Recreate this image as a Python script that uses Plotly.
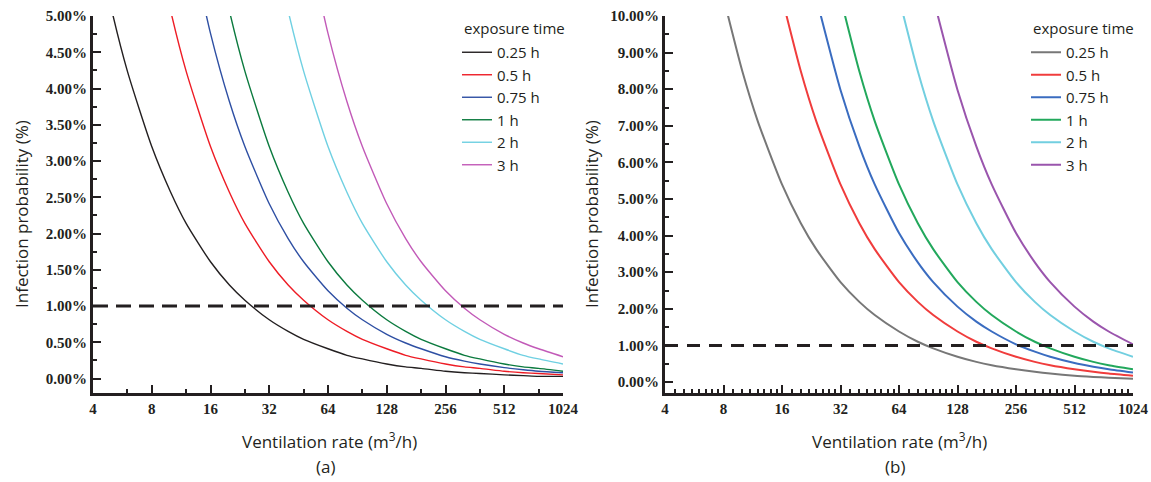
import plotly.graph_objects as go

# ---------------- data ----------------
vent_rate = [4, 5, 6, 8, 10, 12, 16, 20, 24, 32, 40, 48, 64, 80, 96, 128,
             160, 192, 256, 320, 384, 512, 640, 768, 1024]
exposure_labels = ["0.25 h", "0.5 h", "0.75 h", "1 h", "2 h", "3 h"]
N = None

# panel (a) infection probability (%)
a_025 = [6.29, 5.07, 4.24, 3.20, 2.57, 2.14, 1.61, 1.29, 1.08, 0.81, 0.65, 0.54, 0.41,
         0.32, 0.27, 0.20, 0.16, 0.14, 0.10, 0.08, 0.07, 0.05, 0.04, 0.03, 0.03]
a_05 = [N, N, N, 6.29, 5.07, 4.24, 3.20, 2.57, 2.14, 1.61, 1.29, 1.08, 0.81, 0.65,
        0.54, 0.41, 0.32, 0.27, 0.20, 0.16, 0.14, 0.10, 0.08, 0.07, 0.05]
a_075 = [N, N, N, N, N, 6.29, 4.76, 3.82, 3.20, 2.41, 1.93, 1.61, 1.21, 0.97, 0.81,
         0.61, 0.49, 0.41, 0.30, 0.24, 0.20, 0.15, 0.12, 0.10, 0.08]
a_1 = [N, N, N, N, N, N, 6.29, 5.07, 4.24, 3.20, 2.57, 2.14, 1.61, 1.29, 1.08, 0.81,
       0.65, 0.54, 0.41, 0.32, 0.27, 0.20, 0.16, 0.14, 0.10]
a_2 = [N, N, N, N, N, N, N, N, N, 6.29, 5.07, 4.24, 3.20, 2.57, 2.14, 1.61, 1.29,
       1.08, 0.81, 0.65, 0.54, 0.41, 0.32, 0.27, 0.20]
a_3 = [N, N, N, N, N, N, N, N, N, N, N, 6.29, 4.76, 3.82, 3.20, 2.41, 1.93, 1.61,
       1.21, 0.97, 0.81, 0.61, 0.49, 0.41, 0.30]

# panel (b) infection probability (%)
b_025 = [N, N, N, 10.50, 8.49, 7.13, 5.40, 4.34, 3.63, 2.73, 2.19, 1.83, 1.38, 1.10,
         0.92, 0.69, 0.55, 0.46, 0.35, 0.28, 0.23, 0.17, 0.14, 0.12, 0.09]
b_05 = [N, N, N, N, N, N, 10.50, 8.49, 7.13, 5.40, 4.34, 3.63, 2.73, 2.19, 1.83,
        1.38, 1.10, 0.92, 0.69, 0.55, 0.46, 0.35, 0.28, 0.23, 0.17]
b_075 = [N, N, N, N, N, N, N, N, 10.50, 7.98, 6.44, 5.40, 4.07, 3.27, 2.73, 2.06,
         1.65, 1.38, 1.03, 0.83, 0.69, 0.52, 0.42, 0.35, 0.26]
b_1 = [N, N, N, N, N, N, N, N, N, 10.50, 8.49, 7.13, 5.40, 4.34, 3.63, 2.73, 2.19,
       1.83, 1.38, 1.10, 0.92, 0.69, 0.55, 0.46, 0.35]
b_2 = [N, N, N, N, N, N, N, N, N, N, N, N, 10.50, 8.49, 7.13, 5.40, 4.34, 3.63,
       2.73, 2.19, 1.83, 1.38, 1.10, 0.92, 0.69]
b_3 = [N, N, N, N, N, N, N, N, N, N, N, N, N, N, 10.50, 7.98, 6.44, 5.40, 4.07,
       3.27, 2.73, 2.06, 1.65, 1.38, 1.03]

threshold = 1.0
x_ticks = [4, 8, 16, 32, 64, 128, 256, 512, 1024]
x_tick_text = ["4", "8", "16", "32", "64", "128", "256", "512", "1024"]
ya_ticks = [0, 0.5, 1, 1.5, 2, 2.5, 3, 3.5, 4, 4.5, 5]
yb_ticks = [0, 1, 2, 3, 4, 5, 6, 7, 8, 9, 10]

# ---------------- styling ----------------
colors_a = ["#231f20", "#ee1c25", "#2e4fa3", "#0b7a3e", "#6fd0e2", "#c25ab8"]
colors_b = ["#777777", "#f03c3c", "#3a6cc0", "#22a85c", "#72cfe0", "#9a55ad"]
AX = "#231f20"
SANS = "Open Sans"
SERIF = "Liberation Serif"

fig = go.Figure()

for lab, ys, c in zip(exposure_labels, [a_025, a_05, a_075, a_1, a_2, a_3], colors_a):
    fig.add_trace(go.Scatter(x=vent_rate, y=ys, mode="lines", name=lab,
                             line=dict(color=c, width=1.4, shape="spline", smoothing=0.6),
                             xaxis="x", yaxis="y", legend="legend"))
fig.add_trace(go.Scatter(x=[x_ticks[0], x_ticks[-1]], y=[threshold, threshold], mode="lines",
                         line=dict(color=AX, width=3, dash="15px,8px"), showlegend=False,
                         xaxis="x", yaxis="y"))

for lab, ys, c in zip(exposure_labels, [b_025, b_05, b_075, b_1, b_2, b_3], colors_b):
    fig.add_trace(go.Scatter(x=vent_rate, y=ys, mode="lines", name=lab,
                             line=dict(color=c, width=2, shape="spline", smoothing=0.6),
                             xaxis="x2", yaxis="y2", legend="legend2"))
fig.add_trace(go.Scatter(x=[x_ticks[0], x_ticks[-1]], y=[threshold, threshold], mode="lines",
                         line=dict(color=AX, width=3, dash="13px,9px"), showlegend=False,
                         xaxis="x2", yaxis="y2"))

W, H = 1151, 482


def px_x(p):
    return p / W


def px_y(p):
    return 1 - p / H


def minor_log(per_octave):
    vals = []
    a = 4
    while a < 1024:
        for k in range(1, per_octave):
            vals.append(a * (1 + k / per_octave))
        a *= 2
    return vals


tickfont = dict(family=SERIF, size=15, color=AX, weight="bold")


def xaxis(domain, minor_vals, anchor):
    return dict(domain=domain, type="log", range=[0.60206, 3.0103], tickmode="array",
                tickvals=x_ticks, ticktext=x_tick_text, ticks="inside", ticklen=8,
                tickwidth=2, tickcolor=AX, showline=True, linewidth=3, linecolor=AX,
                showgrid=False, zeroline=False, tickfont=tickfont, anchor=anchor,
                automargin=False,
                minor=dict(tickmode="array", tickvals=minor_vals, ticks="inside",
                           ticklen=4, tickwidth=2, tickcolor=AX, showgrid=False))


def yaxis(domain, rng, vals, minor_vals, anchor):
    return dict(domain=domain, range=rng, tickmode="array", tickvals=vals,
                ticktext=[f"{v:.2f}%" for v in vals], ticks="inside", ticklen=8,
                tickwidth=2, tickcolor=AX, showline=True, linewidth=3, linecolor=AX,
                showgrid=False, zeroline=False, tickfont=tickfont, anchor=anchor,
                automargin=False,
                minor=dict(tickmode="array", tickvals=minor_vals, ticks="inside",
                           ticklen=4, tickwidth=2, tickcolor=AX, showgrid=False))


ydom = [px_y(393), px_y(16)]

legend_style = dict(font=dict(family=SANS, size=15, color=AX),
                    bgcolor="rgba(0,0,0,0)", borderwidth=0, xanchor="left", yanchor="top",
                    itemwidth=30, tracegroupgap=0)

fig.update_layout(
    width=W, height=H, margin=dict(l=0, r=0, t=0, b=0, autoexpand=False),
    paper_bgcolor="white", plot_bgcolor="white",
    xaxis=xaxis([px_x(93), px_x(563)], [6, 12, 24, 48, 96, 192, 384, 768], "y"),
    xaxis2=xaxis([px_x(665), px_x(1133)], minor_log(8), "y2"),
    yaxis=yaxis(ydom, [-0.2, 5.0], ya_ticks, [v + 0.25 for v in ya_ticks[:-1]], "x"),
    yaxis2=yaxis(ydom, [-0.3, 10.0], yb_ticks, [v + 0.5 for v in yb_ticks[:-1]], "x2"),
    legend=dict(x=px_x(457), y=px_y(36), **legend_style),
    legend2=dict(x=px_x(1026), y=px_y(36), **legend_style),
    showlegend=True,
)

title_font = dict(family=SANS, size=17, color=AX)
annos = [
    dict(text="Infection probability (%)", x=px_x(21), y=px_y(214), textangle=-90),
    dict(text="Infection probability (%)", x=px_x(591), y=px_y(214), textangle=-90),
    dict(text="Ventilation rate (m<sup>3</sup>/h)", x=px_x(329), y=px_y(440)),
    dict(text="Ventilation rate (m<sup>3</sup>/h)", x=px_x(899), y=px_y(440)),
    dict(text="(a)", x=px_x(325), y=px_y(466)),
    dict(text="(b)", x=px_x(895), y=px_y(466)),
]
for a in annos:
    fig.add_annotation(xref="paper", yref="paper", showarrow=False, font=title_font,
                       xanchor="center", yanchor="middle", **a)

leg_font = dict(family=SANS, size=15, color=AX)
for lx in (462, 1031):
    fig.add_annotation(xref="paper", yref="paper", showarrow=False, font=leg_font,
                       text="exposure time", x=px_x(lx), y=px_y(28),
                       xanchor="left", yanchor="middle")

fig.write_html("out.html", config={"displayModeBar": False},
               post_script="document.body.style.margin='0';document.body.style.overflow='hidden';")
